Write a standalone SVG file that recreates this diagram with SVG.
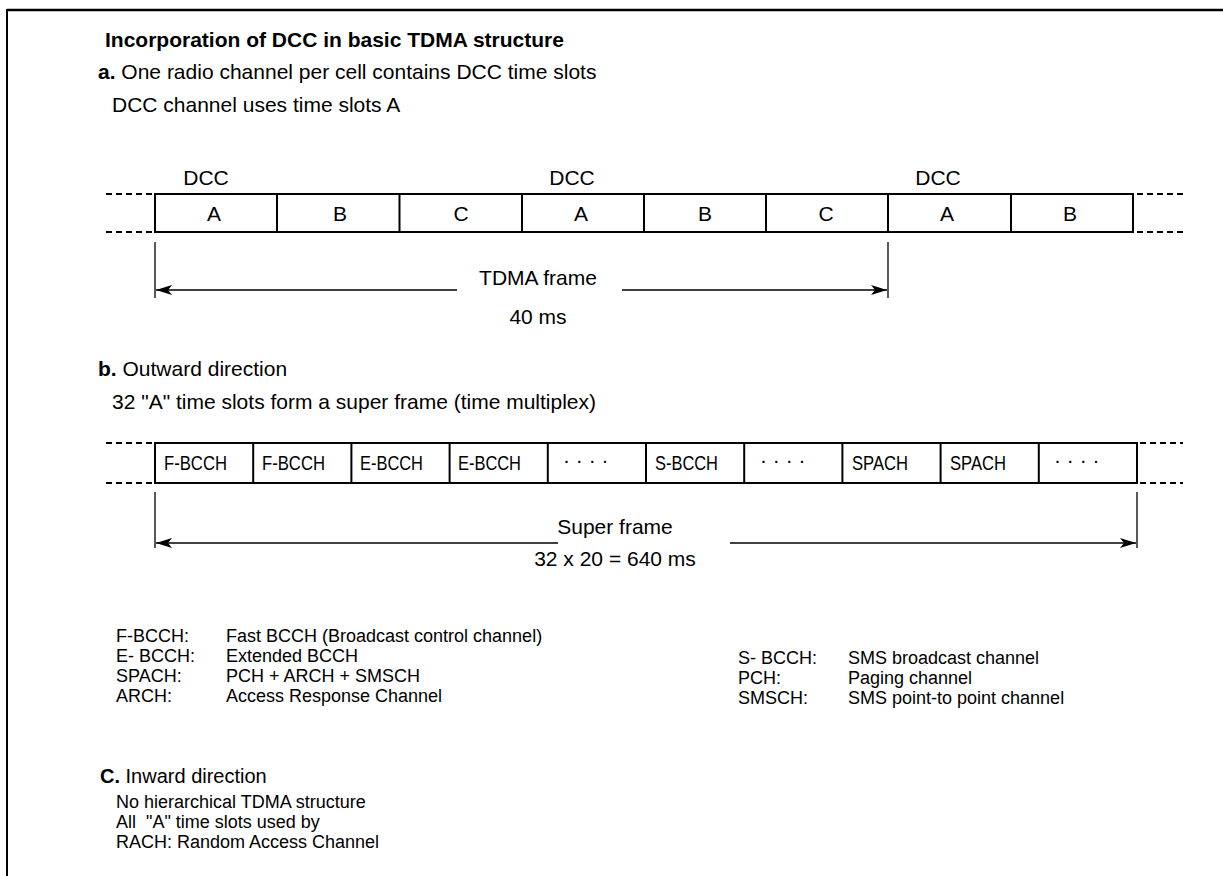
<svg xmlns="http://www.w3.org/2000/svg" width="1223" height="876" viewBox="0 0 1223 876">
<defs>
<style>
text{font-family:"Liberation Sans",Arial,sans-serif;font-size:21px;fill:#000}
.b{font-weight:bold}
.c{text-anchor:middle}
.leg{font-size:18px}
.pre{white-space:pre}
.frame{fill:none;stroke:#000;stroke-width:2}
.cell{stroke:#000;stroke-width:2}
.dash{stroke:#000;stroke-width:2;stroke-dasharray:6 4}
.thin{stroke:#000;stroke-width:1.3;fill:none}
</style>
<marker id="ah" viewBox="0 0 16 10" markerWidth="16" markerHeight="10" refX="16" refY="5" orient="auto-start-reverse" markerUnits="userSpaceOnUse">
<path d="M0,0 L16,5 L0,10 L4,5 z" fill="#000"/>
</marker>
</defs>
<rect width="1223" height="876" fill="#fff"/>
<g id="border">
<line x1="7" y1="10" x2="1223" y2="10" stroke="#000" stroke-width="2.5"/>
<line x1="7" y1="9" x2="7" y2="876" stroke="#000" stroke-width="2"/>
</g>
<g id="heading">
<text class="b" x="105" y="47">Incorporation of DCC in basic TDMA structure</text>
<text x="98" y="79"><tspan class="b">a.</tspan> One radio channel per cell contains DCC time slots</text>
<text x="112" y="112">DCC channel uses time slots A</text>
</g>
<g id="frame-a">
<text class="c" x="206" y="185">DCC</text>
<text class="c" x="572" y="185">DCC</text>
<text class="c" x="938" y="185">DCC</text>
<rect class="frame" x="155" y="194" width="978" height="38"/>
<line class="cell" x1="277" y1="194" x2="277" y2="232"/>
<line class="cell" x1="399.5" y1="194" x2="399.5" y2="232"/>
<line class="cell" x1="522" y1="194" x2="522" y2="232"/>
<line class="cell" x1="644" y1="194" x2="644" y2="232"/>
<line class="cell" x1="766" y1="194" x2="766" y2="232"/>
<line class="cell" x1="888" y1="194" x2="888" y2="232"/>
<line class="cell" x1="1011" y1="194" x2="1011" y2="232"/>
<text class="c" x="214" y="221">A</text>
<text class="c" x="340" y="221">B</text>
<text class="c" x="461" y="221">C</text>
<text class="c" x="581" y="221">A</text>
<text class="c" x="705" y="221">B</text>
<text class="c" x="826" y="221">C</text>
<text class="c" x="947" y="221">A</text>
<text class="c" x="1070" y="221">B</text>
<line class="dash" x1="106" y1="194" x2="152" y2="194"/>
<line class="dash" x1="106" y1="232" x2="152" y2="232"/>
<line class="dash" x1="1137" y1="194" x2="1183" y2="194"/>
<line class="dash" x1="1137" y1="232" x2="1183" y2="232"/>
</g>
<g id="connectors">
<line class="thin" x1="155" y1="242" x2="155" y2="298"/>
<line class="thin" x1="888" y1="242" x2="888" y2="298"/>
<line class="thin" x1="457" y1="290" x2="156" y2="290" marker-end="url(#ah)"/>
<line class="thin" x1="622" y1="290" x2="887" y2="290" marker-end="url(#ah)"/>
<line class="thin" x1="155" y1="492" x2="155" y2="548"/>
<line class="thin" x1="1137" y1="492" x2="1137" y2="548"/>
<line class="thin" x1="558" y1="543" x2="156" y2="543" marker-end="url(#ah)"/>
<line class="thin" x1="730" y1="543" x2="1136" y2="543" marker-end="url(#ah)"/>
</g>
<g id="frame-a-labels">
<text class="c" x="538" y="285">TDMA frame</text>
<text class="c" x="538" y="324">40 ms</text>
</g>
<g id="section-b">
<text x="98" y="376"><tspan class="b">b.</tspan> Outward direction</text>
<text x="112" y="409">32 "A" time slots form a super frame (time multiplex)</text>
</g>
<g id="frame-b">
<rect class="frame" x="155" y="443" width="982" height="40"/>
<line class="cell" x1="253.2" y1="443" x2="253.2" y2="483"/>
<line class="cell" x1="351.4" y1="443" x2="351.4" y2="483"/>
<line class="cell" x1="449.6" y1="443" x2="449.6" y2="483"/>
<line class="cell" x1="547.8" y1="443" x2="547.8" y2="483"/>
<line class="cell" x1="646" y1="443" x2="646" y2="483"/>
<line class="cell" x1="744.2" y1="443" x2="744.2" y2="483"/>
<line class="cell" x1="842.4" y1="443" x2="842.4" y2="483"/>
<line class="cell" x1="940.6" y1="443" x2="940.6" y2="483"/>
<line class="cell" x1="1038.8" y1="443" x2="1038.8" y2="483"/>
<text x="164" y="470" textLength="63" lengthAdjust="spacingAndGlyphs">F-BCCH</text>
<text x="262" y="470" textLength="63" lengthAdjust="spacingAndGlyphs">F-BCCH</text>
<text x="360" y="470" textLength="63" lengthAdjust="spacingAndGlyphs">E-BCCH</text>
<text x="458" y="470" textLength="63" lengthAdjust="spacingAndGlyphs">E-BCCH</text>
<text x="563" y="467">· · · ·</text>
<text x="655" y="470" textLength="63" lengthAdjust="spacingAndGlyphs">S-BCCH</text>
<text x="760" y="467">· · · ·</text>
<text x="852" y="470" textLength="56" lengthAdjust="spacingAndGlyphs">SPACH</text>
<text x="950" y="470" textLength="56" lengthAdjust="spacingAndGlyphs">SPACH</text>
<text x="1054" y="467">· · · ·</text>
<line class="dash" x1="106" y1="443" x2="152" y2="443"/>
<line class="dash" x1="106" y1="483" x2="152" y2="483"/>
<line class="dash" x1="1140" y1="443" x2="1183" y2="443"/>
<line class="dash" x1="1140" y1="483" x2="1183" y2="483"/>
</g>
<g id="frame-b-labels">
<text class="c" x="615" y="534">Super frame</text>
<text class="c" x="615" y="566">32 x 20 = 640 ms</text>
</g>
<g id="legend-left">
<text class="leg" x="116" y="642">F-BCCH:</text><text class="leg" x="226" y="642">Fast BCCH (Broadcast control channel)</text>
<text class="leg" x="116" y="662">E- BCCH:</text><text class="leg" x="226" y="662">Extended BCCH</text>
<text class="leg" x="116" y="682">SPACH:</text><text class="leg" x="226" y="682">PCH + ARCH + SMSCH</text>
<text class="leg" x="116" y="702">ARCH:</text><text class="leg" x="226" y="702">Access Response Channel</text>
</g>
<g id="legend-right">
<text class="leg" x="738" y="664">S- BCCH:</text><text class="leg" x="848" y="664">SMS broadcast channel</text>
<text class="leg" x="738" y="684">PCH:</text><text class="leg" x="848" y="684">Paging channel</text>
<text class="leg" x="738" y="704">SMSCH:</text><text class="leg" x="848" y="704">SMS point-to point channel</text>
</g>
<g id="section-c">
<text x="100" y="783" style="font-size:20px"><tspan class="b">C.</tspan> Inward direction</text>
<text class="leg" x="116" y="808">No hierarchical TDMA structure</text>
<text class="leg pre" x="116" y="828" xml:space="preserve">All  "A" time slots used by</text>
<text class="leg" x="116" y="848">RACH: Random Access Channel</text>
</g>
</svg>
